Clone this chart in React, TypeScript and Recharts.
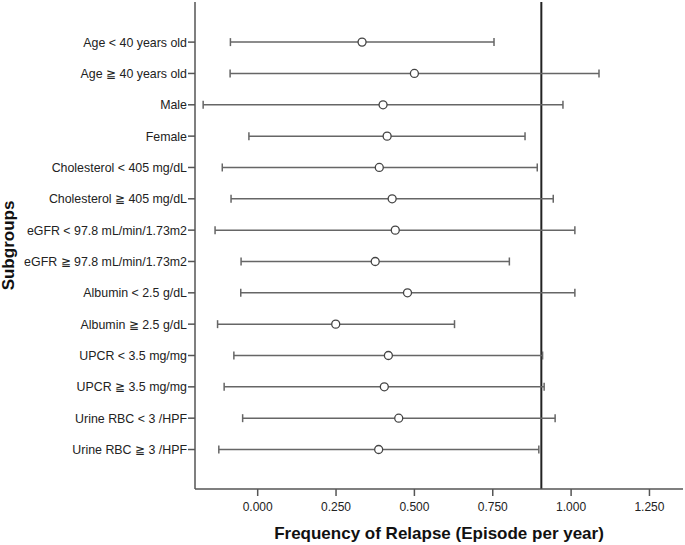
import React from 'react';
import { ScatterChart, Scatter, XAxis, YAxis, ErrorBar, ReferenceLine } from 'recharts';

const subgroups = [
  'Age < 40 years old',
  'Age ≧ 40 years old',
  'Male',
  'Female',
  'Cholesterol < 405 mg/dL',
  'Cholesterol ≧ 405 mg/dL',
  'eGFR < 97.8 mL/min/1.73m2',
  'eGFR ≧ 97.8 mL/min/1.73m2',
  'Albumin < 2.5 g/dL',
  'Albumin ≧ 2.5 g/dL',
  'UPCR < 3.5 mg/mg',
  'UPCR ≧ 3.5 mg/mg',
  'Urine RBC < 3 /HPF',
  'Urine RBC ≧ 3 /HPF',
];
const estimate = [0.333, 0.5, 0.4, 0.413, 0.388, 0.429, 0.439, 0.375, 0.478, 0.249, 0.417, 0.404, 0.45, 0.386];
const lower = [-0.087, -0.088, -0.174, -0.028, -0.113, -0.085, -0.136, -0.053, -0.054, -0.128, -0.076, -0.107, -0.048, -0.124];
const upper = [0.754, 1.089, 0.974, 0.853, 0.892, 0.943, 1.012, 0.803, 1.012, 0.628, 0.909, 0.914, 0.949, 0.897];
const xTicks = [0, 0.25, 0.5, 0.75, 1.0, 1.25];
const referenceValue = 0.905;

const data = subgroups.map((name, i) => ({
  name,
  row: i + 1,
  value: estimate[i],
  err: [estimate[i] - lower[i], upper[i] - estimate[i]],
}));

const FONT = '"Liberation Sans", Arial, sans-serif';

const OpenCircle = (props: any) => {
  const { cx, cy } = props;
  return <circle cx={cx} cy={cy} r={4} fill="#fff" stroke="#444" strokeWidth={1.3} />;
};

const SubgroupTick = (props: any) => {
  const { x, y, payload } = props;
  const label = subgroups[payload.value - 1] ?? '';
  return (
    <text x={x} y={y} dy="0.355em" textAnchor="end" fill="#222" fontSize={12.4} fontFamily={FONT}>
      {label}
    </text>
  );
};

export default function App() {
  return (
    <div style={{ position: 'absolute', left: 0, top: 0, background: '#fff' }}>
      <ScatterChart
        width={685}
        height={545}
        margin={{ top: 2, right: 2, bottom: 0, left: 0 }}
        style={{ fontFamily: FONT }}
      >
        <XAxis
          xAxisId="top"
          orientation="top"
          type="number"
          domain={[-0.2, 1.357]}
          height={0}
          tick={false}
          tickLine={false}
          axisLine={{ stroke: '#888', strokeWidth: 1.5 }}
        />
        <YAxis
          yAxisId="right"
          orientation="right"
          type="number"
          domain={[-0.28, 15.26]}
          width={0}
          tick={false}
          tickLine={false}
          axisLine={{ stroke: '#888', strokeWidth: 1.5 }}
        />
        <XAxis
          dataKey="value"
          type="number"
          domain={[-0.2, 1.357]}
          ticks={xTicks}
          allowDataOverflow
          tickFormatter={(v: number) => v.toFixed(3)}
          height={56}
          tickSize={7}
          tickMargin={6}
          tick={{ fill: '#222', fontSize: 12, fontFamily: FONT }}
          tickLine={{ stroke: '#555', strokeWidth: 1.5 }}
          axisLine={{ stroke: '#555', strokeWidth: 1.5 }}
          label={{
            value: 'Frequency of Relapse (Episode per year)',
            position: 'insideBottom',
            offset: 6,
            style: { fontSize: 17, fontWeight: 'bold', fill: '#111', fontFamily: FONT },
          }}
        />
        <YAxis
          dataKey="row"
          type="number"
          reversed
          domain={[-0.28, 15.26]}
          ticks={subgroups.map((_, i) => i + 1)}
          interval={0}
          allowDataOverflow
          width={195}
          tickSize={7}
          tickMargin={1}
          tick={<SubgroupTick />}
          tickLine={{ stroke: '#555', strokeWidth: 1.5 }}
          axisLine={{ stroke: '#555', strokeWidth: 1.5 }}
          label={{
            value: 'Subgroups',
            angle: -90,
            position: 'insideLeft',
            offset: 8,
            style: { fontSize: 17, fontWeight: 'bold', fill: '#111', textAnchor: 'middle', fontFamily: FONT },
          }}
        />
        <ReferenceLine x={referenceValue} stroke="#222" strokeWidth={2} />
        <Scatter data={data} shape={<OpenCircle />} isAnimationActive={false}>
          <ErrorBar dataKey="err" direction="x" width={4} stroke="#666" strokeWidth={1.5} />
        </Scatter>
      </ScatterChart>
    </div>
  );
}
